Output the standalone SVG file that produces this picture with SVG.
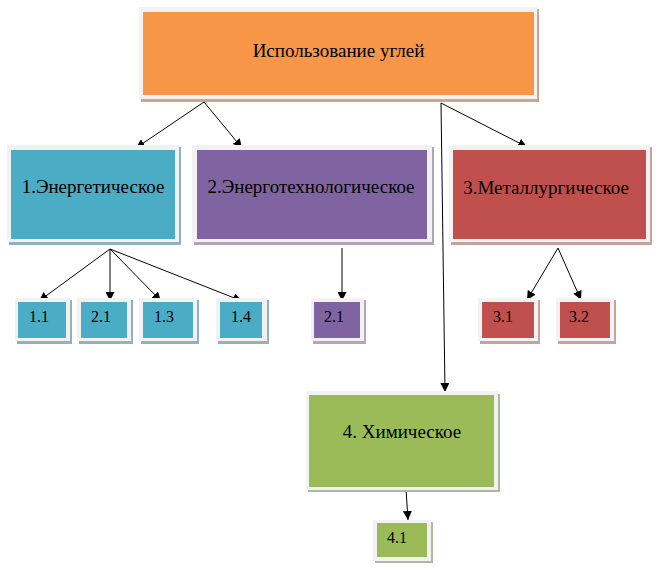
<svg xmlns="http://www.w3.org/2000/svg" width="661" height="573" viewBox="0 0 661 573">
<defs>
<style>
.frame{fill:#f2f2f2}
.t{font-family:'Liberation Serif','Times New Roman',serif;font-size:19px;fill:#000}
.s{font-family:'Liberation Serif','Times New Roman',serif;font-size:16px;fill:#000}
.c{stroke:#000;stroke-width:1;fill:none;marker-end:url(#ah)}
.or{fill:#f79646}.orS{fill:#c9a78f}
.te{fill:#4bacc6}.teS{fill:#93b1bc}
.pu{fill:#8064a2}.puS{fill:#b1a5be}
.re{fill:#c0504d}.reS{fill:#c7a0a0}
.gr{fill:#9bbb59}.grS{fill:#aeb8a0}
</style>
<marker id="ah" markerWidth="9" markerHeight="9" refX="9" refY="4.5" orient="auto" markerUnits="userSpaceOnUse">
<path d="M0,0 L9,4.5 L0,9 Z" fill="#000"/>
</marker>
</defs>
<rect width="661" height="573" fill="#fff"/>
<g id="connectors">
<line class="c" x1="204" y1="102" x2="136" y2="148"/>
<line class="c" x1="204" y1="102" x2="242" y2="148"/>
<line class="c" x1="441" y1="103" x2="527" y2="147"/>
<line class="c" x1="441" y1="103" x2="445" y2="392"/>
<line class="c" x1="110" y1="249" x2="39" y2="301"/>
<line class="c" x1="110" y1="249" x2="110" y2="301"/>
<line class="c" x1="110" y1="249" x2="161" y2="301"/>
<line class="c" x1="110" y1="249" x2="242" y2="301"/>
<line class="c" x1="342" y1="248" x2="342" y2="301"/>
<line class="c" x1="558" y1="248" x2="527" y2="300"/>
<line class="c" x1="558" y1="248" x2="581" y2="300"/>
<line class="c" x1="406" y1="489" x2="408" y2="520"/>
</g>
<g id="n0">
<rect class="orS" x="141" y="9" width="398" height="93"/>
<rect class="frame" x="139" y="7" width="398" height="92"/>
<rect class="or" x="143" y="12" width="391" height="83"/>
<text class="t" x="338.5" y="57" text-anchor="middle">Использование углей</text>
</g>
<g id="n1">
<rect class="teS" x="9" y="147" width="172" height="98"/>
<rect class="frame" x="7" y="145" width="172" height="97"/>
<rect class="te" x="11" y="150" width="164" height="89"/>
<text class="t" x="93" y="193" text-anchor="middle">1.Энергетическое</text>
</g>
<g id="n2">
<rect class="puS" x="194" y="147" width="240" height="98"/>
<rect class="frame" x="192" y="145" width="240" height="97"/>
<rect class="pu" x="197" y="150" width="230" height="89"/>
<text class="t" x="311" y="193" text-anchor="middle">2.Энерготехнологическое</text>
</g>
<g id="n3">
<rect class="reS" x="451" y="147" width="201" height="98"/>
<rect class="frame" x="449" y="145" width="201" height="97"/>
<rect class="re" x="453" y="150" width="193" height="89"/>
<text class="t" x="546" y="194" text-anchor="middle">3.Металлургическое</text>
</g>
<g id="n4">
<rect class="grS" x="308" y="394" width="192" height="98"/>
<rect class="frame" x="306" y="391" width="192" height="99"/>
<rect class="gr" x="309" y="395" width="185" height="92"/>
<text class="t" x="402" y="438" text-anchor="middle">4. Химическое</text>
</g>
<g id="n11">
<rect class="teS" x="17" y="300" width="55" height="44"/>
<rect class="frame" x="15" y="298" width="55" height="43"/>
<rect class="te" x="18" y="302" width="48" height="36"/>
<text class="s" x="29" y="322">1.1</text>
</g>
<g id="n12">
<rect class="teS" x="79" y="300" width="54" height="44"/>
<rect class="frame" x="77" y="298" width="54" height="43"/>
<rect class="te" x="81" y="302" width="46" height="36"/>
<text class="s" x="91" y="322">2.1</text>
</g>
<g id="n13">
<rect class="teS" x="141" y="300" width="58" height="44"/>
<rect class="frame" x="139" y="298" width="58" height="43"/>
<rect class="te" x="143" y="302" width="50" height="36"/>
<text class="s" x="154" y="322">1.3</text>
</g>
<g id="n14">
<rect class="teS" x="218" y="300" width="51" height="44"/>
<rect class="frame" x="216" y="298" width="51" height="43"/>
<rect class="te" x="220" y="302" width="42" height="36"/>
<text class="s" x="231" y="322">1.4</text>
</g>
<g id="n21">
<rect class="puS" x="313" y="300" width="53" height="44"/>
<rect class="frame" x="311" y="298" width="53" height="43"/>
<rect class="pu" x="314" y="302" width="46" height="36"/>
<text class="s" x="324" y="322">2.1</text>
</g>
<g id="n31">
<rect class="reS" x="480" y="300" width="60" height="44"/>
<rect class="frame" x="478" y="298" width="60" height="43"/>
<rect class="re" x="482" y="302" width="52" height="36"/>
<text class="s" x="493" y="322">3.1</text>
</g>
<g id="n32">
<rect class="reS" x="558" y="300" width="58" height="44"/>
<rect class="frame" x="556" y="298" width="58" height="43"/>
<rect class="re" x="560" y="302" width="50" height="36"/>
<text class="s" x="569" y="322">3.2</text>
</g>
<g id="n41">
<rect class="grS" x="375" y="522" width="58" height="41"/>
<rect class="frame" x="373" y="520" width="58" height="41"/>
<rect class="gr" x="377" y="523" width="50" height="34"/>
<text class="s" x="387" y="543">4.1</text>
</g>
</svg>
